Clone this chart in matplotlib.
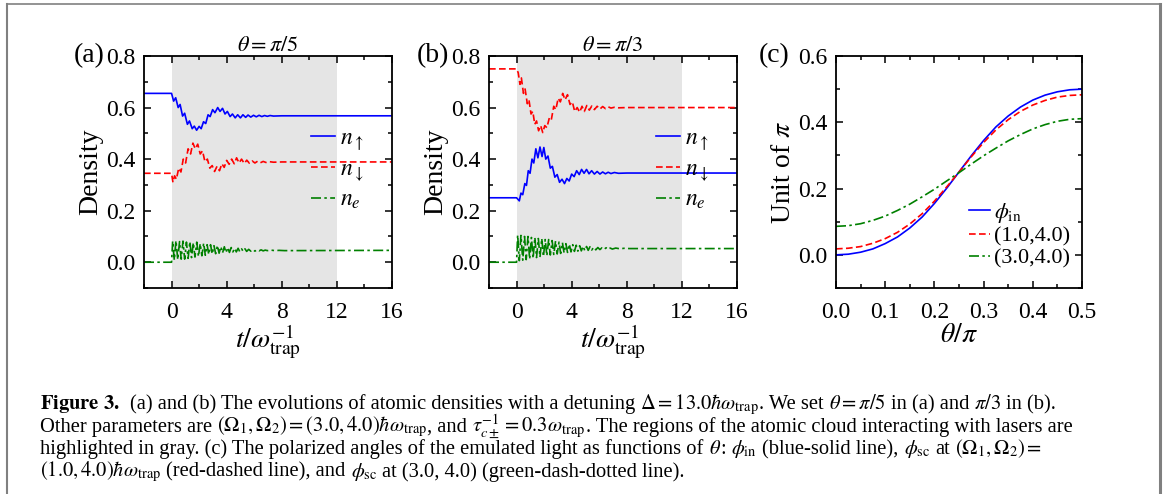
import numpy as np
import matplotlib.pyplot as plt
from matplotlib.ticker import MultipleLocator
from matplotlib.lines import Line2D

plt.rcParams['font.family'] = ['Liberation Serif', 'DejaVu Serif']
plt.rcParams['mathtext.fontset'] = 'stix'

# ── data ─────────────────────────────────────────────────────────────────────
# (a) theta = pi/5
ta_up = [-2, 0.0, 0.15, 0.30, 0.48, 0.62, 0.80, 0.95, 1.15, 1.30, 1.50, 1.65, 1.82, 2.00,
         2.15, 2.32, 2.48, 2.65, 2.80, 2.98, 3.15, 3.35, 3.52, 3.70, 3.88, 4.05, 4.25,
         4.42, 4.62, 4.80, 5.00, 5.18, 5.38, 5.55, 5.75, 5.95, 6.15, 6.35, 6.55, 6.75,
         6.95, 7.15, 7.40, 8.0, 16]
na_up = [0.655, 0.655, 0.625, 0.638, 0.600, 0.612, 0.567, 0.578, 0.535, 0.548, 0.518, 0.528,
         0.512, 0.527, 0.518, 0.545, 0.538, 0.572, 0.565, 0.592, 0.580, 0.600, 0.585, 0.597,
         0.575, 0.585, 0.565, 0.575, 0.560, 0.572, 0.560, 0.572, 0.562, 0.571, 0.563, 0.570,
         0.564, 0.570, 0.565, 0.569, 0.566, 0.569, 0.567, 0.568, 0.568]
ta_dn = [-2, 0.0, 0.10, 0.22, 0.35, 0.52, 0.68, 0.85, 1.02, 1.20, 1.38, 1.55, 1.72, 1.90,
         2.08, 2.25, 2.42, 2.60, 2.78, 2.95, 3.12, 3.30, 3.48, 3.65, 3.82, 4.00, 4.18,
         4.36, 4.55, 4.72, 4.90, 5.08, 5.28, 5.46, 5.65, 5.85, 6.05, 6.25, 6.45, 6.65,
         6.85, 7.1, 7.4, 8.0, 16]
na_dn = [0.345, 0.345, 0.310, 0.335, 0.322, 0.365, 0.350, 0.400, 0.385, 0.440, 0.420, 0.462,
         0.440, 0.458, 0.420, 0.432, 0.390, 0.400, 0.365, 0.375, 0.352, 0.372, 0.355, 0.382,
         0.368, 0.395, 0.380, 0.400, 0.382, 0.405, 0.385, 0.400, 0.383, 0.396, 0.384, 0.393,
         0.385, 0.392, 0.386, 0.391, 0.387, 0.390, 0.388, 0.389, 0.389]

# excited-state density, same time samples for (a) and (b)
t_ne = [-2, 0.0, 0.08, 0.20, 0.32, 0.45, 0.58, 0.70, 0.83, 0.95, 1.08, 1.20, 1.33, 1.45,
        1.58, 1.70, 1.83, 1.95, 2.08, 2.20, 2.33, 2.45, 2.58, 2.70, 2.83, 2.95, 3.08,
        3.20, 3.33, 3.45, 3.58, 3.70, 3.83, 3.95, 4.08, 4.20, 4.33, 4.45, 4.58, 4.70,
        4.83, 4.95, 5.08, 5.20, 5.33, 5.45, 5.60, 5.75, 5.90, 6.05, 6.20, 6.35, 6.50,
        6.65, 6.80, 6.95, 7.2, 7.5, 7.8, 8.2, 16]
na_e = [0.0, 0.0, 0.082, 0.008, 0.084, 0.010, 0.080, 0.012, 0.082, 0.012, 0.078, 0.015,
        0.080, 0.018, 0.076, 0.020, 0.078, 0.022, 0.072, 0.025, 0.074, 0.027, 0.068, 0.030,
        0.068, 0.032, 0.064, 0.033, 0.065, 0.035, 0.060, 0.036, 0.060, 0.037, 0.057, 0.038,
        0.057, 0.040, 0.054, 0.040, 0.054, 0.041, 0.052, 0.042, 0.052, 0.042, 0.050, 0.043,
        0.049, 0.043, 0.048, 0.044, 0.048, 0.044, 0.047, 0.045, 0.047, 0.045, 0.046, 0.045,
        0.046]

# (b) theta = pi/3
tb_up = [-2, 0.0, 0.20, 0.32, 0.45, 0.60, 0.72, 0.85, 0.98, 1.12, 1.25, 1.40, 1.55, 1.70,
         1.85, 1.98, 2.12, 2.28, 2.45, 2.60, 2.78, 2.95, 3.12, 3.30, 3.48, 3.65, 3.82,
         4.00, 4.18, 4.36, 4.55, 4.72, 4.90, 5.08, 5.26, 5.45, 5.65, 5.85, 6.05, 6.25,
         6.45, 6.65, 6.85, 7.1, 7.4, 8.0, 16]
nb_up = [0.250, 0.250, 0.238, 0.268, 0.262, 0.305, 0.298, 0.355, 0.345, 0.400, 0.385, 0.440,
         0.405, 0.447, 0.410, 0.445, 0.400, 0.412, 0.365, 0.372, 0.330, 0.340, 0.310, 0.322,
         0.305, 0.325, 0.315, 0.342, 0.332, 0.355, 0.340, 0.360, 0.345, 0.360, 0.343, 0.355,
         0.342, 0.352, 0.342, 0.350, 0.343, 0.349, 0.344, 0.348, 0.345, 0.346, 0.346]
tb_dn = [-2, 0.0, 0.12, 0.25, 0.35, 0.50, 0.62, 0.78, 0.90, 1.05, 1.18, 1.32, 1.45, 1.60,
         1.75, 1.90, 2.05, 2.20, 2.38, 2.52, 2.70, 2.85, 3.02, 3.18, 3.35, 3.52, 3.70,
         3.88, 4.05, 4.22, 4.40, 4.58, 4.75, 4.92, 5.10, 5.28, 5.46, 5.65, 5.85, 6.05,
         6.25, 6.45, 6.65, 6.85, 7.1, 7.4, 8.0, 16]
nb_dn = [0.750, 0.750, 0.735, 0.690, 0.715, 0.655, 0.672, 0.615, 0.630, 0.575, 0.585, 0.535,
         0.548, 0.510, 0.530, 0.503, 0.530, 0.522, 0.560, 0.552, 0.605, 0.592, 0.636, 0.622,
         0.655, 0.630, 0.650, 0.612, 0.622, 0.585, 0.600, 0.582, 0.605, 0.585, 0.608, 0.590,
         0.606, 0.592, 0.605, 0.594, 0.604, 0.596, 0.603, 0.598, 0.601, 0.599, 0.600, 0.600]
nb_e = [0.0, 0.0, 0.105, 0.006, 0.104, 0.008, 0.100, 0.010, 0.100, 0.012, 0.096, 0.015,
        0.096, 0.018, 0.092, 0.020, 0.092, 0.022, 0.088, 0.025, 0.088, 0.028, 0.084, 0.030,
        0.082, 0.032, 0.078, 0.034, 0.076, 0.036, 0.072, 0.038, 0.070, 0.040, 0.068, 0.042,
        0.066, 0.043, 0.064, 0.044, 0.062, 0.045, 0.061, 0.046, 0.060, 0.047, 0.058, 0.048,
        0.057, 0.049, 0.056, 0.050, 0.056, 0.050, 0.055, 0.051, 0.055, 0.052, 0.054, 0.053,
        0.053]

# (c) polarization angles vs theta/pi
theta = [0.0, 0.025, 0.05, 0.075, 0.1, 0.125, 0.15, 0.175, 0.2, 0.225, 0.25, 0.275,
         0.3, 0.325, 0.35, 0.375, 0.4, 0.425, 0.45, 0.475, 0.5]
phi_in = [0.0, 0.002, 0.008, 0.018, 0.034, 0.054, 0.081, 0.114, 0.155, 0.201, 0.250, 0.299,
          0.345, 0.386, 0.419, 0.446, 0.467, 0.482, 0.492, 0.498, 0.500]
phi_10 = [0.018, 0.020, 0.025, 0.035, 0.049, 0.068, 0.093, 0.124, 0.162, 0.205, 0.250, 0.296,
          0.339, 0.377, 0.408, 0.433, 0.452, 0.466, 0.476, 0.481, 0.483]
phi_30 = [0.086, 0.088, 0.094, 0.104, 0.117, 0.134, 0.153, 0.175, 0.198, 0.223, 0.248, 0.274,
          0.299, 0.322, 0.344, 0.363, 0.380, 0.393, 0.403, 0.409, 0.411]

xt_c = [0.0, 0.1, 0.2, 0.3, 0.4, 0.5]
yt_c = [0.0, 0.2, 0.4, 0.6]
yt_ab = [0.0, 0.2, 0.4, 0.6, 0.8]
xt_ab = [0, 4, 8, 12, 16]

BLUE, RED, GREEN = '#0000ff', '#ff0000', '#008000'
DASH = (0, (4, 2))
DASHDOT = (0, (6, 2, 1.5, 2))

# ── figure ────────────────────────────────────────────────────────────────────
W, H = 1163, 494
fig = plt.figure(figsize=(W / 100, H / 100), dpi=100)

def px_axes(x0, x1, y0=56, y1=288):
    return fig.add_axes([x0 / W, 1 - y1 / H, (x1 - x0) / W, (y1 - y0) / H])

def style(ax):
    for s in ax.spines.values():
        s.set_linewidth(1.3)
    ax.tick_params(which='both', direction='in', top=True, right=True, width=1.1,
                   labelsize=17)
    ax.tick_params(which='major', length=5)
    ax.tick_params(which='minor', length=3)
    ax.tick_params(axis='x', pad=10)
    ax.tick_params(axis='y', pad=6)

axa = px_axes(144, 392)
axb = px_axes(489, 737)
axc = px_axes(836, 1082)

panels = [
    (axa, ta_up, na_up, ta_dn, na_dn, na_e, r'$\theta=\pi/5$', '(a)'),
    (axb, tb_up, nb_up, tb_dn, nb_dn, nb_e, r'$\theta=\pi/3$', '(b)'),
]
for ax, tu, nu, td, nd, ne, title, tag in panels:
    style(ax)
    ax.axvspan(0, 12, color='#e5e5e5', lw=0, zorder=0)
    l1, = ax.plot(tu, nu, color=BLUE, lw=1.2)
    l2, = ax.plot(td, nd, color=RED, lw=1.2, ls=DASH)
    l3, = ax.plot(t_ne, ne, color=GREEN, lw=1.2, ls=DASHDOT)
    ax.set_xlim(-2, 16)
    ax.set_ylim(-0.1, 0.8)
    ax.set_xticks(xt_ab)
    ax.xaxis.set_minor_locator(MultipleLocator(2))
    ax.set_yticks(yt_ab)
    ax.set_yticklabels([f'{v:.1f}' for v in yt_ab])
    ax.yaxis.set_minor_locator(MultipleLocator(0.1))
    ax.set_xlabel(r'$t/\omega_{\rm trap}^{-1}$', fontsize=20, labelpad=0)
    ax.set_ylabel('Density', fontsize=20, labelpad=2)
    ax.set_title(title, fontsize=16, pad=3)
    ax.text(-0.16, 1.0, tag, transform=ax.transAxes, ha='right', va='center',
            fontsize=20)
    ax.legend([l1, l2, l3], [r'$n_\uparrow$', r'$n_\downarrow$', r'$n_e$'],
              loc='center left', bbox_to_anchor=(0.675, 0.51), frameon=False,
              fontsize=17, handlelength=1.0, handletextpad=0.2, labelspacing=0.25,
              borderpad=0, borderaxespad=0)

style(axc)
c1, = axc.plot(theta, phi_in, color=BLUE, lw=1.2)
c2, = axc.plot(theta, phi_10, color=RED, lw=1.2, ls=DASH)
c3, = axc.plot(theta, phi_30, color=GREEN, lw=1.2, ls=DASHDOT)
axc.set_xlim(0, 0.5)
axc.set_ylim(-0.1, 0.6)
axc.set_xticks(xt_c)
axc.set_xticklabels([f'{v:.1f}' for v in xt_c])
axc.xaxis.set_minor_locator(MultipleLocator(0.05))
axc.set_yticks(yt_c)
axc.set_yticklabels([f'{v:.1f}' for v in yt_c])
axc.yaxis.set_minor_locator(MultipleLocator(0.1))
axc.set_xlabel(r'$\theta/\pi$', fontsize=20, labelpad=0)
axc.set_ylabel(r'Unit of $\pi$', fontsize=20, labelpad=2)
axc.text(-0.19, 1.0, '(c)', transform=axc.transAxes, ha='right', va='center', fontsize=20)
axc.legend([c1, c2, c3], [r'$\phi_{\rm in}$', '(1.0,4.0)', '(3.0,4.0)'],
           loc='center left', bbox_to_anchor=(0.54, 0.23), frameon=False,
           fontsize=16, handlelength=0.95, handletextpad=0.2, labelspacing=0.05,
           borderpad=0, borderaxespad=0)

# ── caption: each line is laid out piece by piece so math stays compact ─────
caption = [
    [r"$\mathbf{Figure\ 3.}$", "  (a) and (b) The evolutions of atomic densities with a detuning",
     r" $\Delta = 13.0\hbar\omega_{\rm trap}$", ". We set", r" $\theta = \pi/5$",
     " in (a) and", r" $\pi/3$", " in (b)."],
    ["Other parameters are", r" $(\Omega_1, \Omega_2) = (3.0, 4.0)\hbar\omega_{\rm trap}$",
     ", and", r" $\tau_{c\pm}^{-1} = 0.3\omega_{\rm trap}$",
     ". The regions of the atomic cloud interacting with lasers are"],
    ["highlighted in gray. (c) The polarized angles of the emulated light as functions of",
     r" $\theta$", ":", r" $\phi_{\rm in}$", " (blue-solid line),", r" $\phi_{\rm sc}$", " at",
     r" $(\Omega_1, \Omega_2) =$"],
    [r"$(1.0, 4.0)\hbar\omega_{\rm trap}$", " (red-dashed line), and", r" $\phi_{\rm sc}$",
     " at (3.0, 4.0) (green-dash-dotted line)."],
]
CAP_FS = 14.8
renderer = fig.canvas.get_renderer()
space = 0.25 * CAP_FS * 100 / 72
for i, pieces in enumerate(caption):
    x = 40.0
    y = 1 - (409 + 22.5 * i) / H
    for piece in pieces:
        x += (len(piece) - len(piece.lstrip(' '))) * space
        t = fig.text(x / W, y, piece.lstrip(' '), fontsize=CAP_FS, ha='left', va='baseline')
        x = t.get_window_extent(renderer=renderer).x1

# thin grey frame around the figure (open at the bottom)
grey = '#808080'
fig.add_artist(Line2D([7 / W, 7 / W], [0, 1 - 4 / H], transform=fig.transFigure,
                      color=grey, lw=1.5))
fig.add_artist(Line2D([7 / W, 1159 / W], [1 - 4 / H, 1 - 4 / H], transform=fig.transFigure,
                      color=grey, lw=1.2))
fig.add_artist(Line2D([1159.5 / W, 1159.5 / W], [0, 1 - 4 / H], transform=fig.transFigure,
                      color=grey, lw=2.2))

fig.savefig('out.png', dpi=100)
